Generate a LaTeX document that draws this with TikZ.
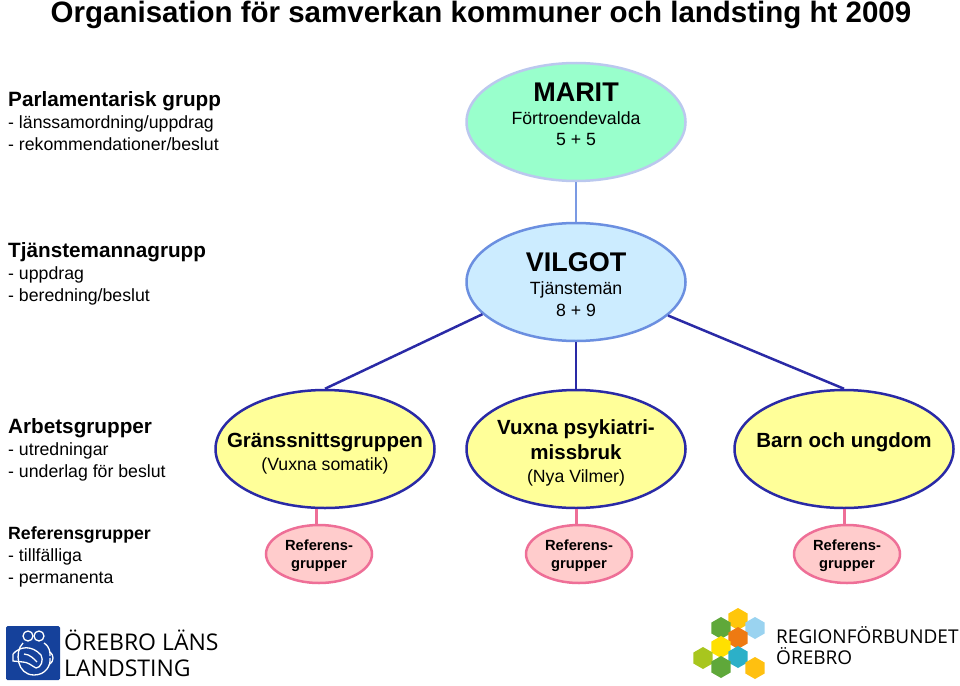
\documentclass[tikz,border=0pt]{standalone}
\usepackage{fontspec}
\usepackage{xcolor}
\setmainfont{Liberation Sans}
\newfontfamily\logofont{Open Sans}
\usetikzlibrary{shapes.geometric}
\definecolor{maritfill}{HTML}{99FFCC}
\definecolor{maritline}{HTML}{BBC8EE}
\definecolor{vilgotfill}{HTML}{CCECFF}
\definecolor{vilgotline}{HTML}{6B8FE0}
\definecolor{groupfill}{HTML}{FFFF99}
\definecolor{groupline}{HTML}{2A2AA6}
\definecolor{reffill}{HTML}{FFCCCC}
\definecolor{refline}{HTML}{EE6F97}
\definecolor{logoblue}{HTML}{15419B}

\begin{document}
\begin{tikzpicture}[x=1pt, y=-1pt,
        oval/.style={ellipse, inner sep=0pt, line width=2.5pt,
            minimum width=219pt, minimum height=118pt},
        smalloval/.style={ellipse, inner sep=0pt, line width=2.5pt,
            draw=refline, fill=reffill, minimum width=106pt, minimum height=58pt},
        reftext/.style={inner sep=0pt, align=center,
            font=\fontsize{14.7}{18}\selectfont\bfseries},
        heading/.style={anchor=north west, inner sep=0pt, align=left,
            font=\fontsize{17.7}{22}\selectfont},
        bigtext/.style={anchor=base, inner sep=0pt, font=\fontsize{27}{30}\selectfont\bfseries},
        midtext/.style={anchor=base, inner sep=0pt, font=\fontsize{20.5}{25}\selectfont\bfseries},
        subtext/.style={anchor=base, inner sep=0pt, font=\fontsize{17.7}{22}\selectfont},
        link/.style={line width=2.5pt, draw=groupline},
        reflink/.style={line width=2.5pt, draw=refline},
        hexcell/.style={regular polygon, regular polygon sides=6, inner sep=0pt,
            minimum size=22pt, shape border rotate=30},
        logotext/.style={anchor=west, inner sep=0pt}]

        \useasboundingbox (0,0) rectangle (960,685);

        \node[anchor=center, inner sep=0pt] (title) at (481,15)
            {\fontsize{29.5}{32}\selectfont\bfseries Organisation för samverkan kommuner och landsting ht 2009};

        \node[heading] (parl) at (8,91) {{\fontsize{20.7}{22}\selectfont\bfseries Parlamentarisk grupp}\\
            - länssamordning/uppdrag\\- rekommendationer/beslut};
        \node[heading] (tjm) at (8,242) {{\fontsize{20.7}{22}\selectfont\bfseries Tjänstemannagrupp}\\
            - uppdrag\\- beredning/beslut};
        \node[heading] (arb) at (8,418) {{\fontsize{20.7}{22}\selectfont\bfseries Arbetsgrupper}\\
            - utredningar\\- underlag för beslut};
        \node[heading] (refg) at (8,526) {{\fontsize{17.7}{22}\selectfont\bfseries Referensgrupper}\\
            - tillfälliga\\- permanenta};

        \node[oval, draw=maritline, fill=maritfill] (marit) at (576,122) {};
        \node[oval, draw=vilgotline, fill=vilgotfill] (vilgot) at (576,282) {};
        \node[oval, draw=groupline, fill=groupfill] (granssnitt) at (325,449) {};
        \node[oval, draw=groupline, fill=groupfill] (vuxna) at (576,449) {};
        \node[oval, draw=groupline, fill=groupfill] (barn) at (844,449) {};

        \node[bigtext] (maritname) at (576,101) {MARIT};
        \node[subtext] (maritsub) at (576,124) {Förtroendevalda};
        \node[subtext] (maritnum) at (576,145) {5 + 5};
        \node[bigtext] (vilgotname) at (576,271) {VILGOT};
        \node[subtext] (vilgotsub) at (576,294) {Tjänstemän};
        \node[subtext] (vilgotnum) at (576,316) {8 + 9};
        \node[midtext] (gransname) at (325,447) {Gränssnittsgruppen};
        \node[subtext] (granssub) at (325,470) {(Vuxna somatik)};
        \node[midtext] (vuxnaname) at (576,434) {Vuxna psykiatri-};
        \node[midtext] (vuxnamore) at (576,459) {missbruk};
        \node[subtext] (vuxnasub) at (576,482) {(Nya Vilmer)};
        \node[midtext] (barnname) at (844,447) {Barn och ungdom};

        \node[smalloval] (refa) at (319,554) {};
        \node[smalloval] (refb) at (579,554) {};
        \node[smalloval] (refc) at (847,554) {};
        \node[reftext] (refatext) at (319,556) {Referens-\\grupper};
        \node[reftext] (refbtext) at (579,556) {Referens-\\grupper};
        \node[reftext] (refctext) at (847,556) {Referens-\\grupper};

        \draw[line width=2.5pt, draw=vilgotline!80!maritline] (marit) -- (vilgot);
        \draw[link] (vilgot.199.5) -- (granssnitt.north);
        \draw[link] (vilgot) -- (vuxna);
        \draw[link] (vilgot.340.5) -- (barn.north);
        \draw[reflink] (refa.95) -- (refa.95 |- granssnitt.south);
        \draw[reflink] (refb.95) -- (refb.95 |- vuxna.south);
        \draw[reflink] (refc.95) -- (refc.95 |- barn.south);

        \fill[logoblue, rounded corners=1.5pt] (6,626) rectangle (60,680);
        \begin{scope}[draw=white, line width=1.3pt, fill=none]
            \draw (28,636) circle[radius=5];
            \draw (39,636) circle[radius=5];
            \draw (23,643) .. controls (14,652) and (17,675) .. (34,675)
                .. controls (46,675) and (51,665) .. (50,658);
            \draw (44,643) .. controls (50,647) and (50,652) .. (50,656);
            \draw (13,654) .. controls (20,646) and (32,645) .. (41,655)
                .. controls (44,660) and (41,668) .. (36,668);
            \draw (13,654) -- (13,661) -- (23,662) .. controls (28,662) and (32,666) .. (36,668);
            \draw (24,654) .. controls (30,654) and (35,660) .. (37,662);
            \draw (50,652) .. controls (54,655) and (54,661) .. (50,664);
        \end{scope}
        \node[logotext, font=\logofont\fontsize{23}{23}\selectfont] (lans) at (64,640) {ÖREBRO LÄNS};
        \node[logotext, font=\logofont\fontsize{23}{23}\selectfont] (landsting) at (64,668) {LANDSTING};

        \foreach \hx/\hy/\hc in {738/619/FFC60B, 721/628/5FA83A, 755/628/9AD3F0,
            738/638/EE7A12, 721/647/FFE000, 703/658/A8C61E,
            738/657/2CB0C8, 721/667/5FA83A, 755/668/FFC010} {
            \definecolor{hexcolor}{HTML}{\hc}
            \node[hexcell, fill=hexcolor] at (\hx,\hy) {};
        }
        \node[logotext, font=\logofont\fontsize{19}{19}\selectfont] (region) at (776,635) {REGIONFÖRBUNDET};
        \node[logotext, font=\logofont\fontsize{19}{19}\selectfont] (orebro) at (776,656) {ÖREBRO};

    \end{tikzpicture}
\end{document}
